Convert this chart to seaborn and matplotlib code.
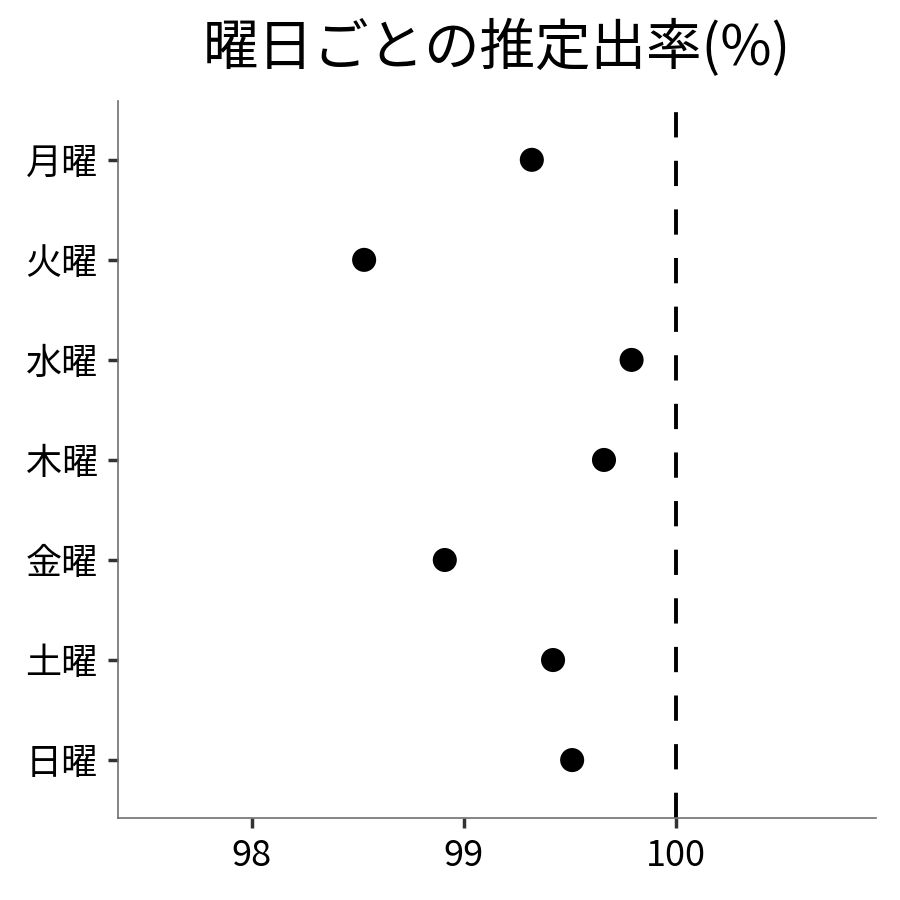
import matplotlib
matplotlib.use("Agg")
import matplotlib.pyplot as plt
import seaborn as sns
import pandas as pd

days = ["月曜", "火曜", "水曜", "木曜", "金曜", "土曜", "日曜"]
rates = [99.32, 98.53, 99.79, 99.66, 98.91, 99.42, 99.51]
ref_line = 100
x_ticks = [98, 99, 100]

sns.set_style("white")
plt.rcParams['font.family'] = ['Noto Sans CJK JP', 'DejaVu Sans']

df = pd.DataFrame({"day": days, "rate": rates})

fig, ax = plt.subplots(figsize=(9, 9), dpi=100)
fig.subplots_adjust(left=0.131, right=0.973, top=0.888, bottom=0.091)

sns.scatterplot(data=df, x="rate", y="day", color="black", s=300,
                edgecolor="none", ax=ax, zorder=3)
ax.axvline(ref_line, color="black", lw=2.8, ls=(0, (6.5, 6)), zorder=2)

ax.set_xlim(97.37, 100.94)
ax.set_ylim(6.58, -0.59)
ax.set_xticks(x_ticks)
ax.set_xticklabels([str(t) for t in x_ticks])
ax.set_xlabel("")
ax.set_ylabel("")
ax.set_title("曜日ごとの推定出率(%)", fontsize=40, pad=26, color="black")

ax.tick_params(axis="both", which="major", direction="out", length=7.5,
               width=2.5, color="#333333", labelsize=26, pad=7,
               labelcolor="black", bottom=True, left=True)
for s in ["top", "right"]:
    ax.spines[s].set_visible(False)
for s in ["left", "bottom"]:
    ax.spines[s].set_color("#707070")
    ax.spines[s].set_linewidth(1.2)

fig.savefig("out.png", dpi=100)
